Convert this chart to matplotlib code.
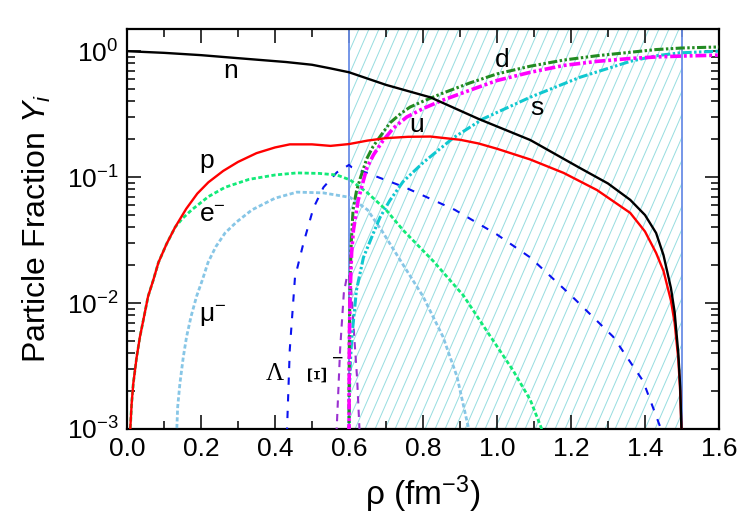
import numpy as np
import matplotlib
matplotlib.use("Agg")
import matplotlib.pyplot as plt
from matplotlib.ticker import LogLocator, MultipleLocator, NullFormatter, FixedLocator
from matplotlib.collections import LineCollection

plt.rcParams['font.family'] = ['Liberation Sans', 'DejaVu Sans']
plt.rcParams['mathtext.fontset'] = 'custom'
plt.rcParams['mathtext.rm'] = 'Liberation Sans'
plt.rcParams['mathtext.it'] = 'Liberation Sans:italic'
plt.rcParams['mathtext.bf'] = 'Liberation Sans:bold'
plt.rcParams['axes.unicode_minus'] = False

# ---------------- data ----------------
n_rho = [0.0, 0.1, 0.2, 0.3, 0.43, 0.5, 0.55, 0.6, 0.7, 0.82, 0.95, 1.09, 1.22, 1.3, 1.36,
         1.4, 1.43, 1.45, 1.47, 1.48, 1.49, 1.495, 1.499]
n_val = [1.0, 0.97, 0.93, 0.88, 0.82, 0.78, 0.73, 0.68, 0.54, 0.43, 0.29, 0.197, 0.12, 0.089,
         0.066, 0.050, 0.036, 0.024, 0.0132, 0.0085, 0.0040, 0.0022, 0.0009]

p_rho = [0.008, 0.0126, 0.017, 0.026, 0.035, 0.046, 0.057, 0.071, 0.085, 0.107, 0.13, 0.16,
         0.19, 0.22, 0.26, 0.3, 0.35, 0.4, 0.44, 0.5, 0.55, 0.6, 0.65, 0.7, 0.76, 0.82, 0.9,
         0.95, 1.0, 1.09, 1.18, 1.27, 1.36, 1.4, 1.43, 1.45, 1.47, 1.48, 1.49, 1.495, 1.499]
p_val = [0.0009, 0.0016, 0.0023, 0.0037, 0.0054, 0.0078, 0.0113, 0.0152, 0.021, 0.0295, 0.040,
         0.056, 0.074, 0.091, 0.112, 0.132, 0.155, 0.172, 0.182, 0.182, 0.177, 0.183, 0.195,
         0.204, 0.209, 0.21, 0.198, 0.185, 0.168, 0.138, 0.108, 0.079, 0.052, 0.037, 0.025,
         0.018, 0.0105, 0.007, 0.0036, 0.002, 0.0009]

e_rho = [0.008, 0.0126, 0.017, 0.026, 0.035, 0.046, 0.057, 0.071, 0.085, 0.107, 0.13, 0.15,
         0.175, 0.22, 0.265, 0.33, 0.4, 0.459, 0.52, 0.567, 0.603, 0.65, 0.7, 0.746, 0.828,
         0.909, 0.981, 1.044, 1.09, 1.127]
e_val = [0.0009, 0.0016, 0.0023, 0.0037, 0.0054, 0.0078, 0.0113, 0.0152, 0.021, 0.0295, 0.040,
         0.047, 0.055, 0.070, 0.083, 0.096, 0.104, 0.108, 0.107, 0.104, 0.095, 0.075, 0.055,
         0.038, 0.0215, 0.0115, 0.0055, 0.0029, 0.0017, 0.0009]

mu_rho = [0.134, 0.137, 0.143, 0.152, 0.161, 0.173, 0.188, 0.2035, 0.219, 0.24, 0.265, 0.296,
          0.338, 0.4, 0.459, 0.53, 0.603, 0.65, 0.69, 0.738, 0.8, 0.854, 0.892, 0.927]
mu_val = [0.0009, 0.0015, 0.0023, 0.0037, 0.0054, 0.0078, 0.0113, 0.0152, 0.021, 0.028, 0.036,
          0.044, 0.055, 0.068, 0.076, 0.075, 0.069, 0.055, 0.037, 0.022, 0.0113, 0.0054,
          0.0026, 0.0009]

lam_rho = [0.432, 0.44, 0.454, 0.477, 0.504, 0.531, 0.567, 0.6, 0.607, 0.751, 0.886, 1.0,
           1.09, 1.2, 1.314, 1.395, 1.449]
lam_val = [0.0009, 0.0043, 0.016, 0.030, 0.057, 0.083, 0.109, 0.125, 0.12, 0.083, 0.055,
           0.035, 0.023, 0.0115, 0.0054, 0.0024, 0.0009]

xi_rho = [0.566, 0.576, 0.586, 0.594, 0.6, 0.606, 0.611, 0.616, 0.622, 0.629]
xi_val = [0.0009, 0.0043, 0.012, 0.016, 0.017, 0.013, 0.0075, 0.0045, 0.0025, 0.0009]

d_rho = [0.6, 0.6003, 0.601, 0.603, 0.606, 0.611, 0.62, 0.63, 0.648, 0.665, 0.684, 0.711,
         0.74, 0.765, 0.8, 0.85, 0.927, 1.0, 1.09, 1.18, 1.27, 1.36, 1.43, 1.5, 1.6]
d_val = [0.0009, 0.002, 0.006, 0.015, 0.03, 0.055, 0.077, 0.097, 0.14, 0.175, 0.21, 0.27,
         0.32, 0.36, 0.40, 0.46, 0.56, 0.66, 0.76, 0.85, 0.92, 0.98, 1.03, 1.06, 1.08]

u_rho = [0.6, 0.6003, 0.601, 0.603, 0.607, 0.612, 0.625, 0.648, 0.666, 0.692, 0.72, 0.756,
         0.8, 0.85, 0.927, 1.0, 1.09, 1.18, 1.27, 1.36, 1.43, 1.5, 1.6]
u_val = [0.0009, 0.0018, 0.005, 0.012, 0.025, 0.038, 0.066, 0.118, 0.15, 0.195, 0.245, 0.30,
         0.35, 0.405, 0.49, 0.585, 0.68, 0.77, 0.83, 0.875, 0.90, 0.915, 0.93]

s_rho = [0.6, 0.601, 0.604, 0.608, 0.62, 0.639, 0.666, 0.684, 0.71, 0.746, 0.8, 0.882, 0.962,
         1.089, 1.224, 1.36, 1.43, 1.495, 1.6]
s_val = [0.0009, 0.002, 0.0035, 0.0055, 0.0126, 0.023, 0.036, 0.048, 0.065, 0.092, 0.13,
         0.205, 0.29, 0.43, 0.62, 0.83, 0.92, 0.97, 1.0]

mixed_lo, mixed_hi = 0.6, 1.5
x_ticks = [0.0, 0.2, 0.4, 0.6, 0.8, 1.0, 1.2, 1.4, 1.6]
x_ticklabels = ['0.0', '0.2', '0.4', '0.6', '0.8', '1.0', '1.2', '1.4', '1.6']
y_ticks = [1e-3, 1e-2, 1e-1, 1e0]
y_ticklabels = [r'$\mathregular{10^{-3}}$', r'$\mathregular{10^{-2}}$',
                r'$\mathregular{10^{-1}}$', r'$\mathregular{10^{0}}$']

# ---------------- figure ----------------
fig = plt.figure(figsize=(7.5, 5.25), dpi=100)
ax = fig.add_axes([127/750, 96/525, 592/750, 400/525])
ax.set_yscale('log')
ax.set_xlim(0.0, 1.6)
ax.set_ylim(1e-3, 1.5)

# hatched mixed-phase region (steep diagonal hatch lines, clipped to the region)
x0l, x1l = ax.get_xlim()
xa_lo = (mixed_lo - x0l) / (x1l - x0l)
xa_hi = (mixed_hi - x0l) / (x1l - x0l)
W = 592.0
H = 400.0
slope = 2.3
step = 10.0 / W
run = H / (slope * W)
segs = []
for xs in np.arange(xa_lo - run, xa_hi + step, step):
    t0 = max(0.0, (xa_lo - xs) / run)
    t1 = min(1.0, (xa_hi - xs) / run)
    if t1 > t0:
        segs.append([(xs + run * t0, t0), (xs + run * t1, t1)])
lc = LineCollection(segs, colors='#97dde0', linewidths=0.7, transform=ax.transAxes, zorder=1)
ax.add_collection(lc)
ax.axvline(mixed_lo, color='#6a8ee6', lw=1.3, zorder=2)
ax.axvline(mixed_hi, color='#6a8ee6', lw=1.3, zorder=2)

# curves
dd = (0, (3, 0.8, 0.8, 0.8, 0.8, 0.8))
ax.plot(mu_rho, mu_val, color='#87c6e6', lw=2.0, ls=(0, (1.5, 0.9)), zorder=3)
ax.plot(e_rho, e_val, color='#12ea78', lw=2.0, ls=(0, (1.5, 0.9)), zorder=4)
ax.plot(lam_rho, lam_val, color='#0a12f0', lw=1.5, ls=(0, (3.5, 4.5)), zorder=3)
ax.plot(xi_rho, xi_val, color='#9a30d0', lw=1.5, ls=(0, (3.5, 3.0)), zorder=3)
ax.plot(s_rho, s_val, color='#10c8d0', lw=2.2, ls=dd, zorder=5)
ax.plot(d_rho, d_val, color='#228b22', lw=2.2, ls=dd, zorder=5)
ax.plot(u_rho, u_val, color='#ff00ff', lw=2.6, ls=dd, zorder=5)
ax.plot(p_rho, p_val, color='#ff0000', lw=1.7, zorder=6)
ax.plot(n_rho, n_val, color='#000000', lw=1.7, zorder=7)

# curve labels
lab_fs = 19
ax.text(0.26, 0.61, 'n', fontsize=lab_fs, ha='left', va='baseline')
ax.text(0.195, 0.118, 'p', fontsize=lab_fs, ha='left', va='baseline')
ax.text(0.195, 0.044, 'e$^{-}$', fontsize=lab_fs, ha='left', va='baseline')
ax.text(0.195, 0.0071, 'μ$^{-}$', fontsize=lab_fs, ha='left', va='baseline')
ax.text(0.762, 0.23, 'u', fontsize=lab_fs, ha='left', va='baseline')
ax.text(0.995, 0.746, 'd', fontsize=lab_fs, ha='left', va='baseline')
ax.text(1.089, 0.31, 's', fontsize=lab_fs, ha='left', va='baseline')
ax.text(0.376, 0.00245, 'Λ', fontsize=18, family=['Liberation Serif', 'DejaVu Serif'],
        ha='left', va='baseline')
ax.text(0.519, 0.0028, 'Ξ', fontsize=20, family=['Liberation Serif', 'DejaVu Serif'],
        rotation=90, ha='center', va='center')
ax.text(0.570, 0.0036, '−', fontsize=14, family=['Liberation Sans', 'DejaVu Sans'],
        ha='center', va='center')

# axes styling
ax.xaxis.set_major_locator(FixedLocator(x_ticks))
ax.set_xticklabels(x_ticklabels)
ax.xaxis.set_minor_locator(MultipleLocator(0.1))
ax.yaxis.set_major_locator(FixedLocator(y_ticks))
ax.set_yticklabels(y_ticklabels)
ax.yaxis.set_minor_locator(LogLocator(base=10, subs=np.arange(2, 10)))
ax.yaxis.set_minor_formatter(NullFormatter())
ax.tick_params(which='both', direction='in', top=True, right=True, width=1.1, colors='black')
ax.tick_params(which='major', length=10, pad=6, labelsize=19)
ax.tick_params(which='minor', length=5.5)
for sp in ax.spines.values():
    sp.set_linewidth(1.6)

ax.set_xlabel('ρ (fm$^{-3}$)', fontsize=24, labelpad=9)
ax.set_ylabel('Particle Fraction $Y_i$', fontsize=23, labelpad=10)

fig.savefig('out.png', dpi=100)
